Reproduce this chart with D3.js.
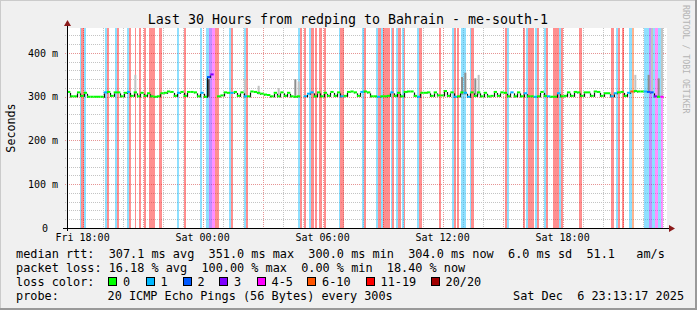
<!DOCTYPE html>
<html>
<head>
<meta charset="utf-8">
<script src="https://cdn.jsdelivr.net/npm/d3@7"></script>
<style>
  body { margin: 0; background: #f0f0f0; }
  text { font-family: "DejaVu Sans Mono", monospace; }
</style>
</head>
<body>
<div id="chart"></div>
<script>

// time window: last 30 hours, one median value per 10 minutes
var endTime = new Date(2025, 11, 6, 23, 13, 17);
var startTime = new Date(endTime.getTime() - 30 * 3600 * 1000);
var stepMin = 10;

// median rtt (ms), one per step, null = no value
var medianRtt = [
  311,301,301,310,302,309,300,300,300,300, 300,310,311,302,310,310,301,309,311,302,
  310,301,309,302,308,301,300,301,308,309, 312,311,302,309,311,302,311,311,310,301,
  309,300,345,351,null,301,303,310,309,309, 311,302,310,301,301,312,311,309,307,305,
  304,301,309,301,310,302,309,301,300,301, null,301,307,310,301,310,301,309,302,311,
  302,310,301,302,311,312,310,302,311,312, 310,301,301,300,301,301,302,310,302,309,
  301,311,312,312,302,300,309,309,310,302, 310,303,303,313,302,310,300,301,310,309,
  300,310,302,310,301,309,301,302,311,302, 310,309,301,310,301,310,301,308,301,301,
  300,301,311,302,301,300,300,308,301,302, 310,302,311,310,302,310,310,302,312,311,
  302,308,308,301,308,310,311,302,309,312, 313,312,312,312,311,310,301,300,300,null
];

// lost pings (of 20) for each median value
var medianLoss = [
  0,0,0,0,0,0,0,0,0,0, 0,1,0,0,0,0,0,0,1,0,
  0,0,0,0,0,0,0,0,0,0, 0,0,0,1,0,0,0,0,0,0,
  1,0,2,3,0,0,0,0,0,1, 0,0,0,1,0,0,0,0,0,0,
  0,0,0,0,0,0,0,0,0,0, 0,1,1,1,0,0,0,0,0,0,
  0,0,1,0,0,0,0,0,1,0, 0,0,0,1,0,0,0,1,0,0,
  0,0,0,0,0,1,0,0,0,0, 0,0,0,0,0,0,1,0,0,1,
  1,0,0,0,0,0,0,0,0,0, 0,0,0,1,0,0,0,1,0,0,
  1,0,0,0,1,0,0,1,0,0, 0,0,0,0,0,0,0,0,0,0,
  0,0,0,1,1,0,0,0,1,6, 0,0,0,1,2,2,3,0,4,0
];

// loss background bands: [from minute, to minute, lost pings]
var lossBands = [
  [38,42,1],[42,51,11],[51,57,1],[114,120,1],[120,126,11],[144,150,1],[150,156,11],
  [180,186,1],[186,192,11],[204,207,11],[216,222,11],[231,237,11],[246,264,11],
  [276,285,11],[330,336,1],[350,357,11],[400,405,1],[418,426,1],[426,435,3],
  [435,444,4],[444,456,11],[487,492,1],[492,498,11],[532,537,1],[537,544,11],
  [694,699,1],[699,705,11],[712,718,11],[727,732,1],[732,740,11],[745,750,11],
  [757,765,11],[771,778,11],[816,820,1],[820,831,11],[885,890,1],[890,896,11],
  [928,933,1],[933,942,11],[942,948,1],[948,968,11],[972,976,1],[976,982,11],
  [988,994,1],[994,1002,11],[1005,1010,1],[1010,1014,11],[1050,1055,1],[1055,1065,11],
  [1117,1123,11],[1155,1160,1],[1160,1166,11],[1169,1175,11],[1183,1197,1],
  [1209,1213,1],[1213,1221,11],[1315,1321,11],[1321,1326,1],[1369,1375,11],
  [1378,1383,1],[1383,1402,11],[1405,1410,1],[1410,1417,11],[1432,1438,1],
  [1438,1444,11],[1459,1477,11],[1477,1482,1],[1482,1489,11],[1537,1545,11],
  [1632,1642,11],[1648,1654,1],[1654,1659,11],[1666,1672,11],[1687,1695,1],
  [1695,1702,6],[1731,1746,1],[1746,1755,3],[1755,1764,1],[1764,1773,4],
  [1773,1782,1],[1782,1788,4]
];

// smoke: step index, low / high rtt (ms), shade 0 light .. 2 dark
var smokeIdx   = [20, 42, 53, 57, 63, 68, 69, 118, 119, 122, 123, 170, 174, 175, 177, 178];
var smokeLo    = [305,300,305,305,305,302,302, 305, 305, 305, 305, 312, 312, 312, 301, 301];
var smokeHi    = [350,340,340,325,320,340,335, 345, 355, 342, 350, 350, 350, 457, 342, 457];
var smokeShade = [0,  2,  0,  0,  0,  1,  0,   1,   1,   1,   0,   0,   1,   0,   1,   0];

// loss colour classes
var lossLabels = ["0", "1", "2", "3", "4-5", "6-10", "11-19", "20/20"];
var lossUpper  = [0, 1, 2, 3, 5, 10, 19, 20];
var lossColors = ["#00ff00", "#00b8ff", "#0059ff", "#7e00ff", "#ff00ff", "#ff5500", "#ff0000", "#a10000"];

var yTicks = [0, 100, 200, 300, 400];

var statsRtt  = "median rtt:  307.1 ms avg  351.0 ms max  300.0 ms min  304.0 ms now  6.0 ms sd  51.1   am/s";
var statsLoss = "packet loss: 16.18 % avg  100.00 % max  0.00 % min  18.40 % now";
var probeText = ["probe:", "20 ICMP Echo Pings (56 Bytes) every 300s", "Sat Dec  6 23:13:17 2025"];

//////////
// SETUP //
//////////

var W = 697, H = 310;
var pLeft = 67, pRight = 667, pTop = 28, pBottom = 228;

var svg = d3.select("#chart").append("svg")
    .attr("width", W)
    .attr("height", H);

svg.append("rect").attr("width", W).attr("height", H).attr("fill", "#f0f0f0");
// frame
svg.append("rect").attr("x", 0).attr("y", 0).attr("width", W).attr("height", 1).attr("fill", "#cbcbcb");
svg.append("rect").attr("x", 0).attr("y", 0).attr("width", 1).attr("height", H).attr("fill", "#cbcbcb");
svg.append("rect").attr("x", 0).attr("y", H - 2).attr("width", W).attr("height", 2).attr("fill", "#999");
svg.append("rect").attr("x", W - 2).attr("y", 0).attr("width", 2).attr("height", H).attr("fill", "#999");

var x = d3.scaleTime().domain([startTime, endTime]).range([pLeft, pRight]);
var y = d3.scaleLinear().domain([0, 457.1]).range([pBottom, pTop]);

function lossColor(p) {
  for (var i = 0; i < lossUpper.length; i++) if (p <= lossUpper[i]) return lossColors[i];
  return lossColors[lossColors.length - 1];
}
function stepTime(i) { return new Date(startTime.getTime() + i * stepMin * 60000); }
function minTime(m) { return new Date(startTime.getTime() + m * 60000); }

// canvas
svg.append("rect")
  .attr("x", pLeft).attr("y", pTop)
  .attr("width", pRight - pLeft).attr("height", pBottom - pTop)
  .attr("fill", "#fff");

//////////
// GRID //
//////////

var grid = svg.append("g").attr("shape-rendering", "crispEdges");

var hours = d3.timeHour.range(startTime, endTime);
grid.selectAll(".vmin").data(hours).enter().append("line")
  .attr("x1", function(d){ return Math.round(x(d)) + 0.5; })
  .attr("x2", function(d){ return Math.round(x(d)) + 0.5; })
  .attr("y1", pTop).attr("y2", pBottom + 2)
  .attr("stroke", function(d){ return d.getHours() % 3 == 0 ? "#e69494" : "#c4c4c4"; })
  .attr("stroke-dasharray", "1,1");

var yMinor = d3.range(20, 457, 20);
grid.selectAll(".hmin").data(yMinor).enter().append("line")
  .attr("x1", pLeft - 2).attr("x2", pRight)
  .attr("y1", function(d){ return Math.round(y(d)) + 0.5; })
  .attr("y2", function(d){ return Math.round(y(d)) + 0.5; })
  .attr("stroke", function(d){ return d % 100 == 0 ? "#e69494" : "#c4c4c4"; })
  .attr("stroke-dasharray", "1,1");

//////////
// LOSS BANDS //
//////////

svg.append("g").attr("shape-rendering", "crispEdges")
  .selectAll("rect").data(lossBands).enter().append("rect")
    .attr("x", function(d){ return x(minTime(d[0])); })
    .attr("width", function(d){ return x(minTime(d[1])) - x(minTime(d[0])); })
    .attr("y", pTop).attr("height", pBottom - pTop)
    .attr("fill", function(d){ return lossColor(d[2]); })
    .attr("fill-opacity", 0.44);

//////////
// SMOKE //
//////////

var smokeFill = ["#c2c2c2", "#8e8e8e", "#505050"];
svg.append("g")
  .selectAll("rect").data(smokeIdx).enter().append("rect")
    .attr("x", function(d){ return x(stepTime(d + 0.2)); })
    .attr("width", function(d){ return x(stepTime(d + 0.6)) - x(stepTime(d)); })
    .attr("y", function(d, i){ return y(smokeHi[i]); })
    .attr("height", function(d, i){ return y(smokeLo[i]) - y(smokeHi[i]); })
    .attr("fill", function(d, i){ return smokeFill[smokeShade[i]]; });

//////////
// MEDIAN //
//////////

var med = svg.append("g");
var idx = d3.range(medianRtt.length);

// step connectors
med.selectAll(".conn").data(idx.filter(function(i){
    return i + 1 < medianRtt.length && medianRtt[i] != null && medianRtt[i + 1] != null;
  })).enter().append("line")
  .attr("x1", function(i){ return Math.round(x(stepTime(i + 1))) + 0.5; })
  .attr("x2", function(i){ return Math.round(x(stepTime(i + 1))) + 0.5; })
  .attr("y1", function(i){ return y(medianRtt[i]) + 1; })
  .attr("y2", function(i){ return y(medianRtt[i + 1]) + 1; })
  .attr("stroke", "#111")
  .attr("stroke-width", 1.2);

med.selectAll(".seg").data(idx.filter(function(i){ return medianRtt[i] != null; }))
  .enter().append("line")
  .attr("x1", function(i){ return x(stepTime(i)); })
  .attr("x2", function(i){ return x(stepTime(i + 1)); })
  .attr("y1", function(i){ return y(medianRtt[i]); })
  .attr("y2", function(i){ return y(medianRtt[i]); })
  .attr("stroke", function(i){ return lossColor(medianLoss[i]); })
  .attr("stroke-width", 2);

//////////
// AXIS //
//////////

var axis = svg.append("g").attr("shape-rendering", "crispEdges");
axis.append("line").attr("x1", pLeft - 4).attr("x2", pRight + 4)
  .attr("y1", pBottom + 0.5).attr("y2", pBottom + 0.5).attr("stroke", "#000");
axis.append("line").attr("x1", pLeft + 0.5).attr("x2", pLeft + 0.5)
  .attr("y1", pBottom + 3).attr("y2", pTop - 4).attr("stroke", "#000");
svg.append("path").attr("d", "M" + (pRight + 2) + "," + (pBottom - 3) + "L" + (pRight + 8) + "," + (pBottom + 0.5) + "L" + (pRight + 2) + "," + (pBottom + 4) + "Z")
  .attr("fill", "#8b1a1a");
svg.append("path").attr("d", "M" + (pLeft - 3) + "," + (pTop - 2) + "L" + (pLeft + 0.5) + "," + (pTop - 8) + "L" + (pLeft + 4) + "," + (pTop - 2) + "Z")
  .attr("fill", "#8b1a1a");

// x labels
var xLabels = d3.timeHour.every(6).range(startTime, endTime);
svg.selectAll(".xl").data(xLabels).enter().append("text")
  .attr("x", function(d){ return x(d); })
  .attr("y", 241)
  .attr("text-anchor", "middle")
  .attr("font-size", "10px")
  .style("white-space", "pre")
  .text(d3.timeFormat("%a %H:%M"));

// y labels
svg.selectAll(".yl").data(yTicks).enter().append("text")
  .attr("x", function(d){ return d == 0 ? pLeft - 19 : pLeft - 9; })
  .attr("y", function(d){ return y(d) + 3.6; })
  .attr("text-anchor", "end")
  .attr("font-size", "10px")
  .text(function(d){ return d == 0 ? "0" : d + " m"; });

svg.append("text")
  .attr("transform", "translate(14.5,128) rotate(-90)")
  .attr("text-anchor", "middle")
  .attr("font-size", "11.7px")
  .text("Seconds");

// title
svg.append("text")
  .attr("x", 348).attr("y", 24)
  .attr("text-anchor", "middle")
  .attr("font-size", "13.3px")
  .text("Last 30 Hours from redping to Bahrain - me-south-1");

svg.append("text")
  .attr("transform", "translate(683,5) rotate(90)")
  .attr("font-size", "8.2px")
  .attr("fill", "#b4b4b4")
  .text("RRDTOOL / TOBI OETIKER");

//////////
// LEGEND //
//////////

var legFont = "11.85px";
function line(txt, xs, yb) {
  svg.append("text")
    .attr("x", xs).attr("y", yb)
    .attr("font-size", legFont)
    .style("white-space", "pre")
    .text(txt);
}
line(statsRtt, 16, 258);
line(statsLoss, 16, 272);
line("loss color:", 16, 286);
line(probeText[0], 16, 300);
line(probeText[1], 107.5, 300);
line(probeText[2], 513, 300);

var boxX = [108, 145.5, 182.5, 219, 256.5, 307, 365.5, 430.5];
svg.selectAll(".lb").data(lossLabels).enter().append("rect")
  .attr("x", function(d, i){ return boxX[i] + 0.5; })
  .attr("y", 277.5)
  .attr("width", 8).attr("height", 8)
  .attr("fill", function(d, i){ return lossColors[i]; })
  .attr("stroke", "#000")
  .attr("shape-rendering", "crispEdges");
svg.selectAll(".ll").data(lossLabels).enter().append("text")
  .attr("x", function(d, i){ return boxX[i] + 15; })
  .attr("y", 286)
  .attr("font-size", legFont)
  .text(function(d){ return d; });

</script>
</body>
</html>
